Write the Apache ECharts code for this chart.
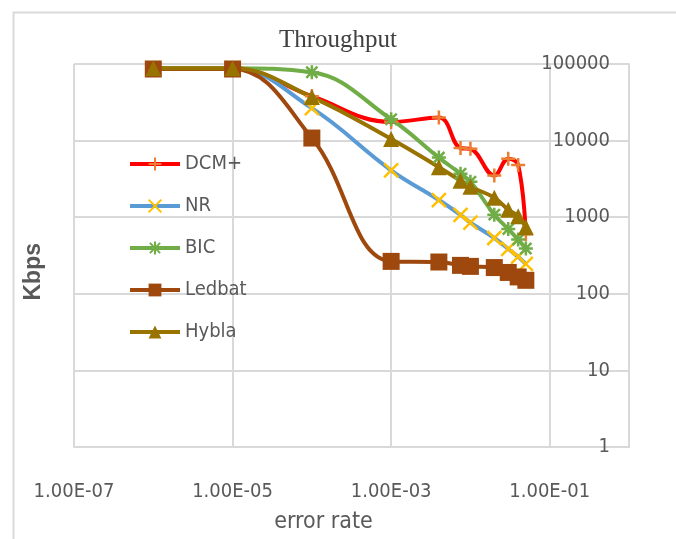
<!DOCTYPE html>
<html>
<head>
<meta charset="utf-8">
<script src="https://cdn.jsdelivr.net/npm/echarts@6/dist/echarts.min.js"></script>
<style>
html,body{margin:0;padding:0;background:#fff;}
#chart{width:676px;height:539px;}
</style>
</head>
<body>
<div id="chart"></div>
<script>
const errorRates = [1e-6, 1e-5, 1e-4, 1e-3, 0.004, 0.0075, 0.01, 0.02, 0.03, 0.04, 0.05];
const dcmPlus = [88000, 88000, 38000, 17500, 20000, 8000, 7800, 3500, 5800, 4800, 600];
const nr      = [88000, 88000, 26500, 4100, 1675, 1070, 850, 535, 385, 305, 245];
const bic     = [88000, 88000, 78000, 19000, 6000, 3700, 2900, 1080, 700, 510, 390];
const ledbat  = [86000, 86000, 10800, 265, 260, 235, 228, 220, 190, 166, 150];
const hybla   = [88000, 88000, 37000, 10500, 4500, 3000, 2500, 1800, 1250, 1030, 740];

const seriesNames = ['DCM+', 'NR', 'BIC', 'Ledbat', 'Hybla'];
const xTickValues = [1e-7, 1e-5, 1e-3, 1e-1];
const xTickLabels = ['1.00E-07', '1.00E-05', '1.00E-03', '1.00E-01'];
const yTickValues = [1, 10, 100, 1000, 10000, 100000];
const yTickLabels = ['1', '10', '100', '1000', '10000', '100000'];

function pairs(ys){ return errorRates.map((x,i)=>[x, ys[i]]); }
function lookup(v, vals, labels){
  for (let i=0;i<vals.length;i++){ if (Math.abs(Math.log10(v)-Math.log10(vals[i]))<1e-6) return labels[i]; }
  return '';
}

const narrow = '"Liberation Sans Narrow","DejaVu Sans Condensed",sans-serif';
const gridColor = '#d9d9d9';
const textColor = '#595959';

function mk(name, data, lineColor, symbol, symColor, size, stroke){
  return {
    name: name, type: 'line', data: pairs(data),
    smooth: 0.4,
    symbol: symbol, symbolSize: size,
    lineStyle: {color: lineColor, width: 4},
    itemStyle: stroke ? {color: symColor, borderColor: symColor, borderWidth: 2.5} : {color: symColor, borderWidth: 0},
    emphasis: {disabled: true}
  };
}

const chart = echarts.init(document.getElementById('chart'), null, {renderer: 'canvas'});
chart.setOption({
  animation: false,
  backgroundColor: '#fff',
  title: {
    text: 'Throughput', left: 'center', top: 23,
    textStyle: {fontFamily: '"Liberation Serif",serif', fontSize: 25, fontWeight: 'normal', color: '#404040'}
  },
  grid: {left: 74, top: 64, right: 47, bottom: 92},
  legend: {
    orient: 'vertical', left: 128, top: 152, padding: 0,
    itemWidth: 50, itemHeight: 16, itemGap: 18,
    data: seriesNames,
    lineStyle: {width: 4},
    textStyle: {fontFamily: narrow, fontSize: 20, color: textColor, lineHeight: 24, padding: [0,0,0,0]}
  },
  xAxis: {
    type: 'log', logBase: 10, min: 1e-7, max: 1, interval: 2,
    axisLine: {show: true, lineStyle: {color: gridColor, width: 2}},
    axisTick: {show: false},
    splitLine: {show: true, lineStyle: {color: gridColor, width: 2}},
    minorSplitLine: {show: false},
    axisLabel: {
      margin: 35, fontFamily: narrow, fontSize: 20, color: textColor,
      showMaxLabel: false,
      formatter: v => lookup(v, xTickValues, xTickLabels)
    },
    name: 'error rate', nameLocation: 'middle', nameGap: 64,
    nameTextStyle: {fontFamily: narrow, fontSize: 23, color: textColor, padding: [0, 56, 0, 0]}
  },
  yAxis: {
    type: 'log', logBase: 10, min: 1, max: 100000, interval: 1, position: 'right',
    axisLine: {show: true, lineStyle: {color: gridColor, width: 2}},
    axisTick: {show: false},
    splitLine: {show: true, lineStyle: {color: gridColor, width: 2}},
    axisLabel: {
      inside: true, margin: 19, fontFamily: narrow, fontSize: 20, color: textColor,
      formatter: v => lookup(v, yTickValues, yTickLabels)
    }
  },
  graphic: [
    {type: 'rect', left: 11, top: 10, shape: {width: 700, height: 600},
     style: {fill: 'none', stroke: gridColor, lineWidth: 2}, silent: true, z: -10},
    {type: 'text', left: 22, top: 243, rotation: Math.PI/2,
     style: {text: 'Kbps', fontFamily: '"Liberation Sans",sans-serif', fontWeight: 'bold', fontSize: 23, fill: textColor}}
  ],
  series: [
    mk('DCM+', dcmPlus, '#FF0000', 'path://M5,0L5,10M0,5L10,5', '#ED7D31', 14, true),
    mk('NR', nr, '#5B9BD5', 'path://M0,0L10,10M10,0L0,10', '#FFC000', 14, true),
    mk('BIC', bic, '#70AD47', 'path://M5,0L5,10M1,1L9,9M9,1L1,9M0,5L10,5', '#70AD47', 14, true),
    mk('Ledbat', ledbat, '#9E480E', 'rect', '#9E480E', 17, false),
    mk('Hybla', hybla, '#997300', 'triangle', '#997300', 16, false)
  ]
});
</script>
</body>
</html>
